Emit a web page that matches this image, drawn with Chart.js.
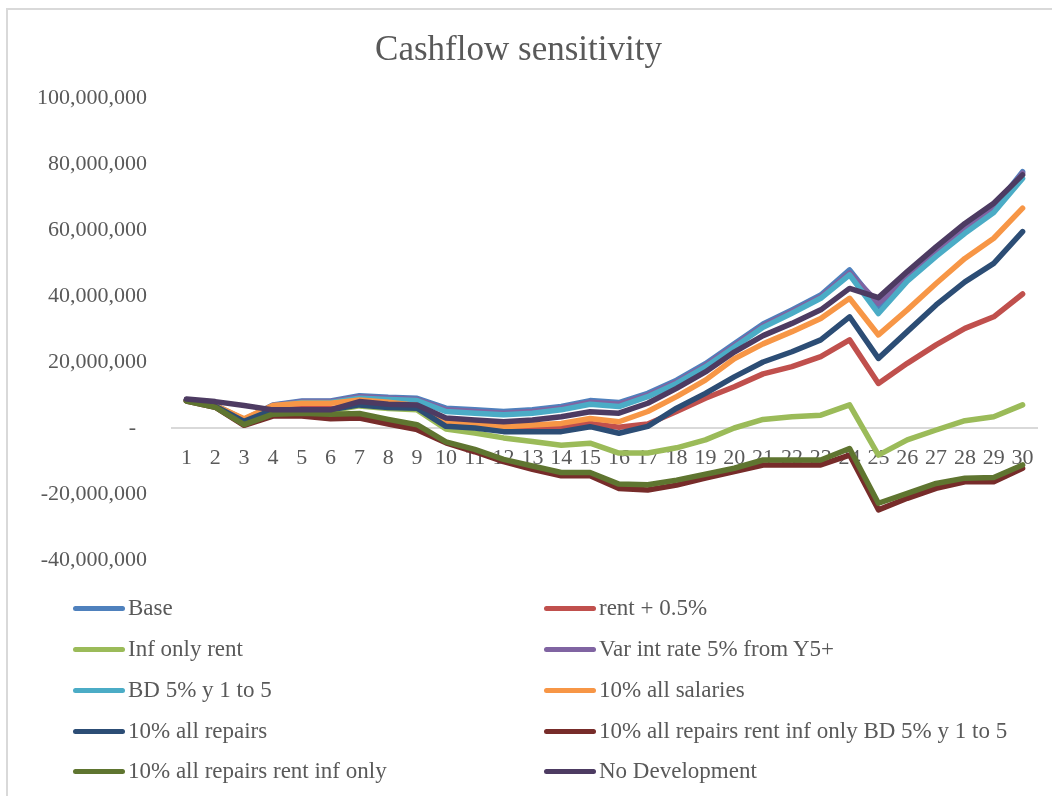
<!DOCTYPE html>
<html>
<head>
<meta charset="utf-8">
<script src="https://cdn.jsdelivr.net/npm/chart.js@4.4.1/dist/chart.umd.min.js"></script>
<style>
  body { margin: 0; background: #fff; }
  #wrap { position: relative; width: 1052px; height: 796px; overflow: hidden; }
  #frame { position: absolute; left: 6px; top: 8px; width: 1100px; height: 900px;
           border-left: 2px solid #d9d9d9; border-top: 2px solid #d9d9d9; }
  #legend { position: absolute; left: 0; top: 0; font-family: "Liberation Serif", serif;
            font-size: 23px; color: #595959; }
  .item { position: absolute; height: 30px; line-height: 30px; white-space: nowrap; }
  .item span.ln { display: inline-block; width: 52px; height: 5px; border-radius: 3px;
                  vertical-align: middle; margin-right: 3px; position: relative; top: -1px; }
</style>
</head>
<body>
<div id="wrap">
  <div id="frame"></div>
  <canvas id="myChart" width="1052" height="796"></canvas>
  <div id="legend"></div>
</div>
<script>
// years 1..30
let anni = [];
for (let i = 1; i <= 30; i++) anni.push(String(i));

// valori in milioni
const base      = [8.5, 6.8, 2.5, 7.0, 8.2, 8.2, 9.8, 9.3, 9.0, 6.0, 5.5, 5.0, 5.5, 6.5, 8.3, 7.7, 10.5, 14.5, 19.5, 25.5, 31.5, 35.8, 40.3, 47.9, 36.8, 46.0, 53.5, 60.5, 66.6, 77.7];
const rent05    = [8.5, 6.6, 2.2, 5.8, 6.0, 5.8, 7.3, 6.5, 6.0, 1.5, 0.9, 0.0, 0.0, 0.3, 1.4, 0.2, 1.2, 5.0, 9.0, 12.5, 16.4, 18.6, 21.6, 26.7, 13.5, 19.6, 25.2, 30.2, 33.7, 40.6];
const infRent   = [8.3, 6.4, 1.2, 5.2, 5.2, 5.2, 6.7, 5.9, 5.5, -0.3, -1.5, -3.0, -4.1, -5.2, -4.6, -7.6, -7.6, -6.0, -3.6, 0.0, 2.6, 3.4, 3.9, 7.0, -8.2, -3.6, -0.6, 2.2, 3.4, 7.0];
const varInt    = [8.5, 6.8, 2.5, 6.8, 8.0, 8.0, 9.5, 9.0, 8.6, 5.5, 5.0, 4.5, 5.0, 6.0, 7.8, 7.2, 10.0, 14.0, 19.0, 25.0, 31.0, 35.3, 39.8, 47.0, 37.8, 45.5, 53.0, 60.0, 66.2, 77.2];
const bd5       = [8.5, 6.8, 2.5, 6.7, 7.7, 7.7, 9.0, 8.6, 8.3, 5.0, 4.5, 4.0, 4.5, 5.5, 7.2, 6.5, 9.5, 13.5, 18.5, 24.5, 30.5, 34.8, 39.3, 46.4, 34.7, 44.5, 52.0, 59.0, 65.3, 75.6];
const salaries  = [8.5, 6.8, 2.8, 6.8, 7.5, 7.5, 8.5, 7.8, 6.8, 2.0, 1.4, 0.4, 0.9, 1.4, 2.9, 1.9, 5.0, 9.5, 14.5, 21.0, 25.5, 29.2, 33.2, 39.3, 28.2, 35.8, 43.8, 51.4, 57.5, 66.6];
const repairs   = [8.5, 6.6, 2.0, 5.5, 5.5, 5.5, 7.0, 6.2, 6.0, 0.5, 0.0, -1.1, -1.1, -1.1, 0.4, -1.6, 0.5, 6.0, 10.5, 15.5, 20.0, 23.1, 26.7, 33.7, 21.1, 29.2, 37.3, 44.3, 49.9, 59.5];
const repInfBd  = [8.2, 6.3, 0.8, 3.6, 3.6, 2.8, 3.0, 1.2, -0.5, -4.5, -7.2, -10.2, -12.5, -14.5, -14.5, -18.3, -18.8, -17.3, -15.2, -13.2, -11.2, -11.2, -11.2, -8.2, -24.8, -21.3, -18.3, -16.3, -16.3, -12.2];
const repInf    = [8.2, 6.3, 1.0, 4.2, 4.5, 4.2, 4.4, 2.6, 1.0, -4.2, -6.5, -9.5, -11.5, -13.5, -13.5, -17.0, -17.2, -15.8, -14.0, -12.2, -9.7, -9.7, -9.7, -6.2, -22.8, -19.8, -16.8, -15.2, -15.0, -11.2];
const noDev     = [8.8, 8.0, 6.8, 5.5, 5.5, 5.5, 8.0, 7.2, 7.0, 3.0, 2.4, 1.9, 2.4, 3.4, 4.9, 4.5, 7.5, 12.0, 17.0, 23.0, 28.0, 31.7, 35.8, 42.3, 39.5, 47.4, 54.9, 62.0, 68.1, 76.7];

const nomi = ["Base", "rent + 0.5%", "Inf only rent", "Var int rate 5% from Y5+", "BD 5% y 1 to 5",
              "10% all salaries", "10% all repairs", "10% all repairs rent inf only BD 5% y 1 to 5",
              "10% all repairs rent inf only", "No Development"];
const serie = [base, rent05, infRent, varInt, bd5, salaries, repairs, repInfBd, repInf, noDev];
const colori = ["#4F81BD", "#C0504D", "#9BBB59", "#8064A2", "#4BACC6",
                "#F79646", "#2C4D75", "#772C2A", "#5F7530", "#4D3B62"];

const ctx = document.getElementById('myChart');
const font = "'Liberation Serif', serif";

let datasets = [];
for (let i = 0; i < serie.length; i++) {
    datasets.push({
        label: nomi[i],
        data: serie[i].map(v => v * 1000000),
        borderColor: colori[i],
        backgroundColor: colori[i],
        borderWidth: 5.5,
        pointRadius: 0,
        tension: 0,
        borderJoinStyle: 'round',
        borderCapStyle: 'round',
        order: 10 - i   // later series drawn on top, like excel
    });
}

new Chart(ctx, {
    type: 'line',
    data: { labels: anni, datasets: datasets },
    options: {
        responsive: false,
        animation: false,
        layout: { padding: { left: 0, right: 15, bottom: 236, top: 0 } },
        plugins: {
            legend: { display: false },
            tooltip: { enabled: false },
            title: {
                display: true,
                text: "Cashflow sensitivity",
                color: '#595959',
                font: { family: font, size: 35, weight: 'normal' },
                padding: { top: 30, bottom: 26 }
            }
        },
        scales: {
            x: {
                position: { y: 0 },
                offset: true,
                grid: { display: false },
                border: { display: true, color: '#d9d9d9', width: 2 },
                ticks: {
                    color: '#595959',
                    font: { family: font, size: 22 },
                    padding: 9,
                    autoSkip: false,
                    maxRotation: 0
                }
            },
            y: {
                min: -40000000,
                max: 100000000,
                grid: { display: false },
                border: { display: false },
                afterFit: function (s) { s.width = 172; },
                ticks: {
                    stepSize: 20000000,
                    color: '#595959',
                    font: { family: font, size: 22 },
                    padding: 17,
                    callback: function (v) {
                        if (v === 0) return '-  ';
                        return v.toLocaleString('en-US');
                    }
                }
            }
        }
    }
});

// legenda in html, due colonne
let leg = document.getElementById('legend');
const colX = [73, 544];
const rigaY = [608, 649, 690, 731, 771];
for (let i = 0; i < nomi.length; i++) {
    let d = document.createElement('div');
    d.className = 'item';
    d.style.left = colX[i % 2] + 'px';
    d.style.top = (rigaY[Math.floor(i / 2)] - 15) + 'px';
    d.innerHTML = '<span class="ln" style="background:' + colori[i] + '"></span>' + nomi[i];
    leg.appendChild(d);
}
</script>
</body>
</html>
